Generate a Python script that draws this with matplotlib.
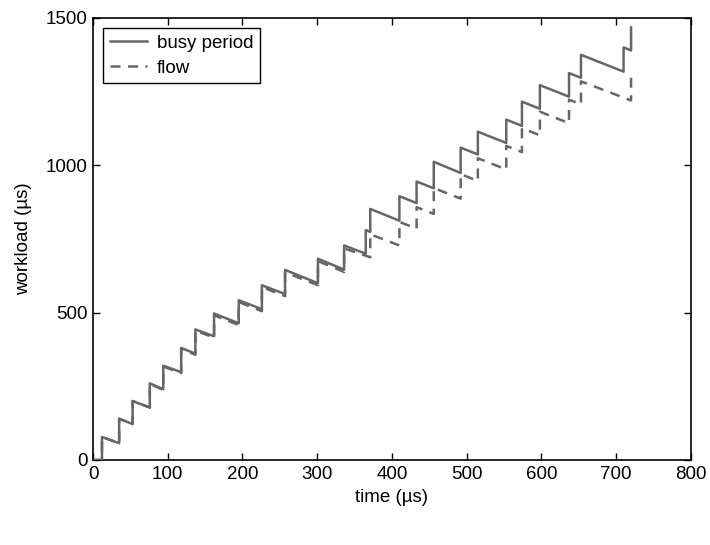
import matplotlib
matplotlib.use("Agg")
import matplotlib.pyplot as plt

plt.rcParams['font.family'] = ['Liberation Sans', 'DejaVu Sans']

# busy period: arrival times, workload just before and just after each arrival
busy_t      = [12, 35, 53, 76, 94, 118, 137, 162, 195, 226, 257, 301, 336, 365, 371,
               410, 433, 456, 492, 515, 553, 574, 598, 637, 653, 710, 720]
busy_before = [0, 57, 122, 178, 240, 298, 361, 420, 464, 512, 563, 600, 646, 700, 774,
               812, 872, 922, 974, 1037, 1076, 1134, 1192, 1233, 1297, 1318, 1390]
busy_after  = [78, 140, 200, 260, 320, 380, 443, 497, 542, 593, 645, 683, 728, 780, 852,
               895, 945, 1012, 1060, 1114, 1155, 1216, 1272, 1313, 1375, 1400, 1468]

# flow: arrival times, workload before and after each arrival
flow_t      = [12, 35, 53, 76, 94, 118, 137, 162, 195, 226, 257, 301, 336, 371,
               410, 433, 456, 492, 515, 553, 574, 598, 637, 653, 720]
flow_before = [0, 57, 122, 178, 238, 295, 357, 415, 458, 505, 556, 593, 638, 688,
               728, 785, 835, 887, 947, 986, 1045, 1102, 1143, 1207, 1220]
flow_after  = [78, 140, 200, 258, 317, 377, 439, 491, 536, 587, 637, 675, 718, 766,
               808, 858, 923, 970, 1024, 1066, 1126, 1182, 1223, 1285, 1300]

def sawtooth(ts, before, after):
    xs, ys = [0], [0]
    for t, b, a in zip(ts, before, after):
        xs += [t, t]
        ys += [b, a]
    return xs, ys

fig = plt.figure(figsize=(7.1, 5.45), dpi=100)
ax = fig.add_axes([0.131, 0.156, 0.842, 0.811])

col = '#666666'
bx, by = sawtooth(busy_t, busy_before, busy_after)
fx, fy = sawtooth(flow_t, flow_before, flow_after)
ax.plot(bx, by, color=col, lw=1.8, label='busy period', zorder=3)
ax.plot(fx, fy, color=col, lw=1.8, dashes=(4, 3), label='flow', zorder=2)

ax.set_xlim(0, 800)
ax.set_ylim(0, 1500)
ax.set_xticks(range(0, 801, 100))
ax.set_yticks([0, 500, 1000, 1500])
ax.tick_params(direction='in', top=True, right=True, length=5, width=1,
               labelsize=13.5, colors='black', pad=4)
for s in ax.spines.values():
    s.set_linewidth(1.2)
    s.set_color('black')

ax.set_xlabel('time (µs)', fontsize=13.5, labelpad=5)
ax.set_ylabel('workload (µs)', fontsize=13.5, labelpad=10)

leg = ax.legend(loc='upper left', fontsize=13.5, frameon=True, fancybox=False,
                edgecolor='black', framealpha=1, borderpad=0.35, labelspacing=0.4,
                handlelength=2.0, handletextpad=0.5, borderaxespad=0.55)
leg.get_frame().set_linewidth(1.0)

fig.savefig('out.png', dpi=100)
